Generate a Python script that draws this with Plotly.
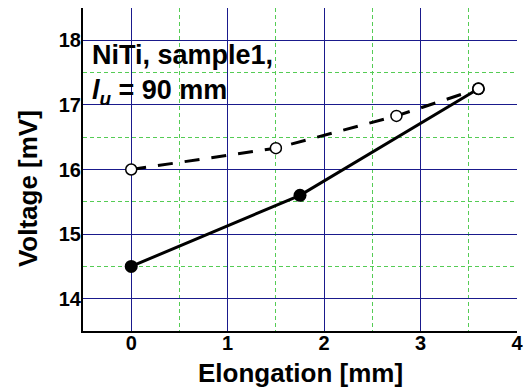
import plotly.graph_objects as go

# Data
x_solid = [0, 1.75, 3.6]
y_solid = [14.5, 15.6, 17.25]
x_dash = [0, 1.5, 2.75, 3.6]
y_dash = [16.0, 16.33, 16.83, 17.25]

x_ticks = [0, 1, 2, 3, 4]
y_ticks = [14, 15, 16, 17, 18]

FONT = "Liberation Sans, Arial, sans-serif"
NAVY = "#1a1a8c"
GREEN = "#55cc55"

fig = go.Figure()
fig.add_trace(go.Scatter(
    x=x_solid, y=y_solid, mode="lines+markers",
    line=dict(color="black", width=3),
    marker=dict(symbol="circle", size=13, color="black"),
    showlegend=False, cliponaxis=False))
fig.add_trace(go.Scatter(
    x=x_dash, y=y_dash, mode="lines+markers",
    line=dict(color="black", width=3, dash="15px,12px"),
    marker=dict(symbol="circle", size=11, color="white",
                line=dict(color="black", width=1.5)),
    showlegend=False, cliponaxis=False))

axis_common = dict(
    showline=True, linecolor="black", linewidth=2, mirror=False,
    showgrid=True, gridcolor=NAVY, gridwidth=1,
    zeroline=False, ticks="", automargin=False, ticklabeloverflow="allow",
    tickfont=dict(family=FONT, size=20, color="black", weight="bold"),
)

fig.update_xaxes(
    range=[-0.5, 4], tickmode="array", tickvals=x_ticks,
    ticktext=[str(v) for v in x_ticks], ticklabelstandoff=-7,
    minor=dict(dtick=0.5, tick0=0, showgrid=True, gridcolor=GREEN,
               griddash="4px,3px", gridwidth=1),
    **axis_common)
fig.update_yaxes(
    range=[13.5, 18.5], tickmode="array", tickvals=y_ticks,
    ticktext=[str(v) for v in y_ticks], ticklabelstandoff=-4,
    minor=dict(dtick=0.5, tick0=0, showgrid=True, gridcolor=GREEN,
               griddash="4px,3px", gridwidth=1),
    **axis_common)

fig.add_annotation(
    x=-0.43, y=18.03, xref="x", yref="y", xanchor="left", yanchor="top",
    text="NiTi, sample1,<br><i>l</i><sub><i>u</i></sub> = 90 mm",
    showarrow=False, align="left",
    font=dict(family=FONT, size=27, color="black", weight="bold"))

fig.add_annotation(
    x=0.5, y=-0.13, xref="paper", yref="paper", xanchor="center", yanchor="middle",
    text="Elongation [mm]", showarrow=False,
    font=dict(family=FONT, size=26, color="black", weight="bold"))
fig.add_annotation(
    x=-0.127, y=0.442, xref="paper", yref="paper", xanchor="center", yanchor="middle",
    text="Voltage [mV]", showarrow=False, textangle=-90,
    font=dict(family=FONT, size=26, color="black", weight="bold"))

fig.update_layout(
    width=524, height=389,
    margin=dict(l=83, r=7, t=8, b=58),
    plot_bgcolor="white", paper_bgcolor="white",
)

# Remove the page's default body margin so the figure fills the window.
fig.write_html(
    "out.html",
    config={"displayModeBar": False},
    post_script="document.body.style.margin='0';document.body.style.overflow='hidden';",
)
